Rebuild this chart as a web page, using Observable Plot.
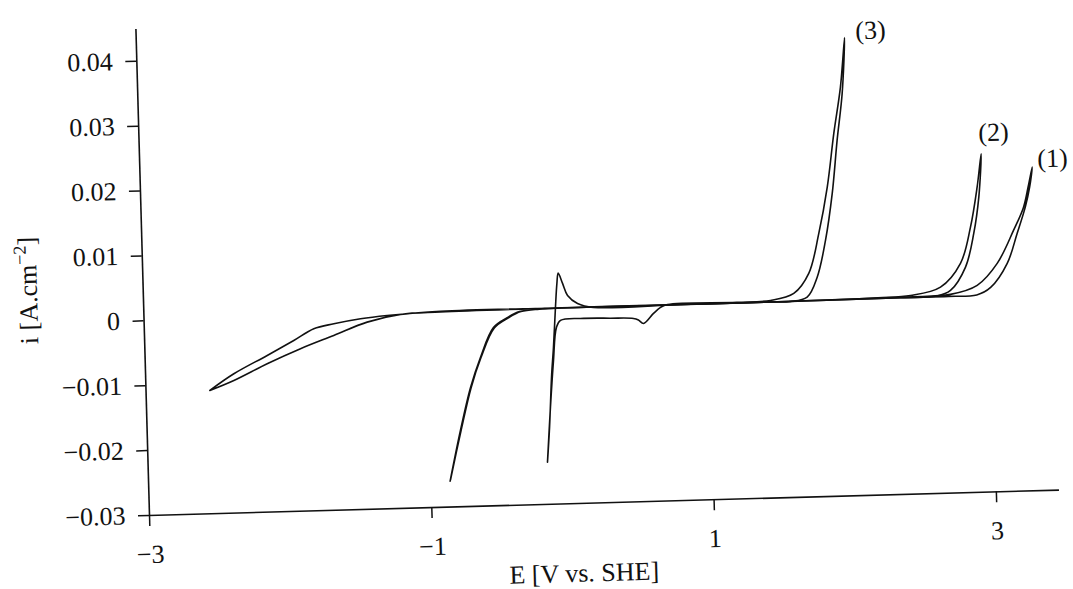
<!DOCTYPE html>
<html>
<head>
<meta charset="utf-8">
<script src="https://cdn.jsdelivr.net/npm/d3@7"></script>
<script src="https://cdn.jsdelivr.net/npm/@observablehq/plot@0.6"></script>
<style>
  html, body { margin: 0; padding: 0; background: #fff; overflow: hidden; }
</style>
</head>
<body>
<div id="chart"></div>
<script>
// ---- data ----
const xTicks = [-3, -1, 1, 3];
const yTicks = [-0.03, -0.02, -0.01, 0, 0.01, 0.02, 0.03, 0.04];

const curve1E = [-2.548, -2.375, -2.135, -1.944, -1.800, -1.657, -1.467, -1.278, -0.900, 0.000, 0.800, 1.440, 2.360, 2.700, 2.900, 3.000, 3.122, 3.198, 3.262, 3.296, 3.318, 3.285, 3.248, 3.173, 3.051, 2.905, 2.714, 2.400, 1.440, 0.000, -0.900, -1.183, -1.421, -1.660, -1.898, -2.137, -2.376, -2.548];
const curve1I = [-0.0110, -0.00854, -0.00586, -0.00367, -0.00195, -0.00127, -0.00061, -0.00022, 0.00021, 0.0002, 0.0002, 0.0002, 0.0003, 0.0003, 0.0004, 0.0015, 0.00513, 0.0097, 0.0138, 0.0168, 0.01985, 0.0168, 0.01368, 0.01018, 0.00517, 0.00187, 0.0006, 0.0004, 0.0002, 0.0002, 0.0001, -0.00012, -0.00116, -0.00307, -0.00497, -0.00714, -0.00957, -0.0110];

const curve2E = [-0.865, -0.782, -0.702, -0.626, -0.528, -0.426, -0.340, -0.200, 0.800, 1.440, 2.360, 2.619, 2.715, 2.826, 2.891, 2.934, 2.959, 2.924, 2.869, 2.791, 2.645, 2.431, 2.200, 1.440, 0.800, -0.200, -0.330, -0.420, -0.522, -0.622, -0.698, -0.778, -0.862];
const curve2I = [-0.0260, -0.01825, -0.01167, -0.00709, -0.00252, -0.00104, -0.0002, 0.0001, 0.0002, 0.0002, 0.0003, 0.0004, 0.00121, 0.00474, 0.00989, 0.01546, 0.02213, 0.01701, 0.01087, 0.00533, 0.00176, 0.00061, 0.0004, 0.0002, 0.0002, 0.0001, -0.0002, -0.0011, -0.0026, -0.0071, -0.0117, -0.0183, -0.0258];

const curve3E = [-0.172, -0.150, -0.125, -0.107, -0.085, -0.070, -0.059, -0.030, 0.003, 0.072, 0.184, 0.800, 1.440, 1.580, 1.699, 1.774, 1.840, 1.897, 1.942, 1.987, 2.015, 1.976, 1.920, 1.863, 1.794, 1.715, 1.605, 1.439, 1.200, 0.709, 0.659, 0.608, 0.535, 0.500, 0.465, 0.300, 0.090, -0.052, -0.082, -0.110, -0.140, -0.172];
const curve3I = [-0.0235, -0.0180, -0.0100, -0.00586, 0.00029, 0.0040, 0.00556, 0.00396, 0.00209, 0.00081, 0.00013, 0.0002, 0.0002, 0.0002, 0.0008, 0.00383, 0.00945, 0.01666, 0.0248, 0.0320, 0.04059, 0.0330, 0.0259, 0.01765, 0.01056, 0.00444, 0.00142, 0.00044, 0.0003, 0.00027, -0.00016, -0.00105, -0.00255, -0.0020, -0.00174, -0.0016, -0.00151, -0.00173, -0.0028, -0.0080, -0.0150, -0.0235];

const curveNames = ["(1)", "(2)", "(3)"];
const labelE = [3.463, 3.051, 2.200];
const labelI = [0.0211, 0.02536, 0.0416];

const xLabel = "E [V vs. SHE]";
const yLabel = "i [A.cm−2]";

// ---- build table ----
const series = [[curve1E, curve1I], [curve2E, curve2I], [curve3E, curve3I]];
const rows = series.flatMap(([E, I], k) => E.map((e, j) => ({curve: curveNames[k], E: e, i: I[j]})));

const font = "'Liberation Serif', 'Times New Roman', serif";
const fs = 26;
const yFmt = d => (Math.abs(d) < 1e-12 ? "0" : d3.format(".2f")(d));
const xFmt = d3.format("d");

const chart = Plot.plot({
  width: 1073,
  height: 610,
  marginLeft: 149,
  marginRight: 13.7,
  marginTop: 28.8,
  marginBottom: 95,
  style: {
    fontFamily: font,
    fontSize: fs + "px",
    color: "#111",
    background: "#fff",
    overflow: "visible",
    transform: "rotate(-1.6deg)",
    transformOrigin: "149px 515px"
  },
  x: {domain: [-3, 3.447]},
  y: {domain: [-0.03, 0.0449]},
  marks: [
    Plot.ruleX([-3], {stroke: "#111", strokeWidth: 1.6}),
    Plot.ruleY([-0.03], {stroke: "#111", strokeWidth: 1.6}),
    Plot.axisX({ticks: xTicks, tickFormat: xFmt, tickSize: 11, tickPadding: 18, label: null, fontSize: fs, stroke: "#111", strokeWidth: 1.5, fill: "#111"}),
    Plot.axisY({ticks: yTicks, tickFormat: yFmt, tickSize: 11, tickPadding: 13, label: null, fontSize: fs, stroke: "#111", strokeWidth: 1.5, fill: "#111"}),
    Plot.line(rows, {x: "E", y: "i", z: "curve", stroke: "#111", strokeWidth: 1.6, curve: "catmull-rom"}),
    Plot.text(curveNames, {x: labelE, y: labelI, text: curveNames, fontSize: fs, fill: "#111", textAnchor: "middle", lineAnchor: "middle"}),
    Plot.text([xLabel], {frameAnchor: "bottom-left", dx: 433, dy: 70, text: d => d, fontSize: fs, fill: "#111", textAnchor: "middle", lineAnchor: "middle"}),
    Plot.text([yLabel], {frameAnchor: "top-left", dx: -114.7, dy: 257.9, rotate: -90, text: d => d, fontSize: fs, fill: "#111", textAnchor: "middle", lineAnchor: "middle"})
  ]
});

// superscript for the unit
const yl = [...chart.querySelectorAll("text")].find(n => n.textContent === yLabel);
if (yl) {
  yl.textContent = "";
  const ns = "http://www.w3.org/2000/svg";
  const a = document.createElementNS(ns, "tspan"); a.textContent = "i [A.cm";
  const b = document.createElementNS(ns, "tspan"); b.textContent = "−2";
  b.setAttribute("dy", "-0.55em"); b.setAttribute("font-size", "0.7em");
  const c = document.createElementNS(ns, "tspan"); c.textContent = "]";
  c.setAttribute("dy", "0.385em");
  yl.append(a, b, c);
}

document.getElementById("chart").append(chart);
</script>
</body>
</html>
